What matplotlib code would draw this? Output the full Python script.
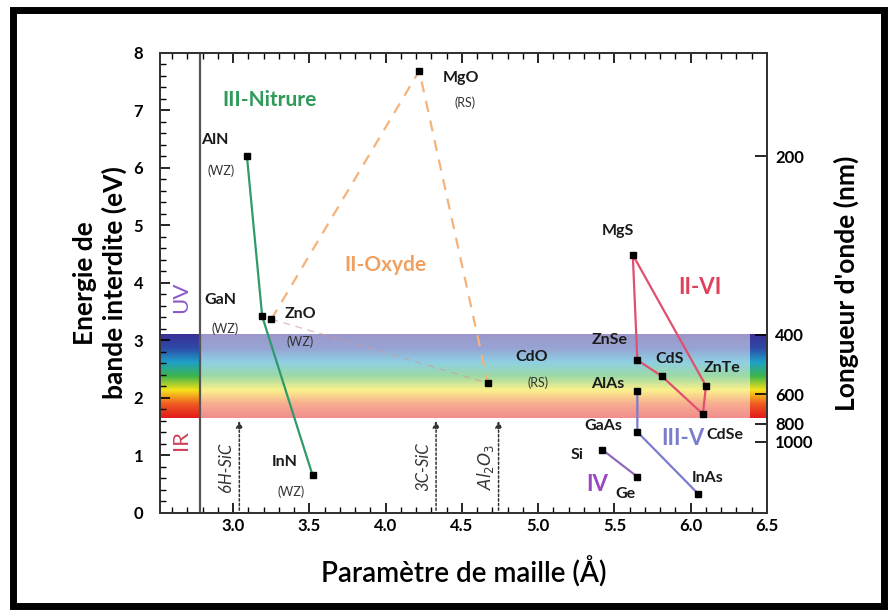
import numpy as np
import matplotlib
matplotlib.use("Agg")
import matplotlib.pyplot as plt
from matplotlib.colors import LinearSegmentedColormap, to_rgb
from matplotlib.patches import Rectangle

plt.rcParams['font.family'] = ['Lato', 'DejaVu Sans']

# ---- data ----
names = ["AlN", "GaN", "InN", "ZnO", "MgO", "CdO", "MgS", "ZnSe", "CdS", "ZnTe",
         "CdSe", "AlAs", "GaAs", "InAs", "Si", "Ge"]
lattice = [3.09, 3.19, 3.52, 3.25, 4.22, 4.67, 5.62, 5.65, 5.81, 6.10,
           6.08, 5.65, 5.65, 6.05, 5.42, 5.65]
gap = [6.2, 3.42, 0.66, 3.37, 7.69, 2.26, 4.49, 2.66, 2.38, 2.21,
       1.72, 2.12, 1.41, 0.33, 1.1, 0.63]
structure = {"AlN": "(WZ)", "GaN": "(WZ)", "InN": "(WZ)", "ZnO": "(WZ)",
             "MgO": "(RS)", "CdO": "(RS)"}

nitride_path = ["AlN", "GaN", "InN"]
oxide_path = ["ZnO", "MgO", "CdO"]
oxide_faint = ["ZnO", "CdO"]
iivi_path = ["MgS", "ZnSe", "CdS", "CdSe", "ZnTe", "MgS"]
iiiv_path = ["AlAs", "GaAs", "InAs"]
iv_path = ["Si", "Ge"]

substrates = ["6H-SiC", "3C-SiC", r"$\mathit{Al_2O_3}$"]
substrate_a = [3.04, 4.33, 4.74]

wavelengths = [200, 400, 600, 800, 1000]
visible_band = (1.65, 3.1)

pts = dict(zip(names, zip(lattice, gap)))

fig = plt.figure(figsize=(8.91, 6.14), dpi=100)
ax = fig.add_axes([0.1796, 0.1645, 0.6812, 0.7492])

# rainbow band for the visible range
cols = ['#e31a1c', '#f05a22', '#f7e21a', '#3cb44b', '#1ea0c8', '#2e4aa8', '#3b2f96']
rainbow = LinearSegmentedColormap.from_list("rb", cols)
pastel = LinearSegmentedColormap.from_list(
    "rbp", [tuple(0.5 * np.array(to_rgb(c)) + 0.5) for c in cols])
grad = np.linspace(0, 1, 256).reshape(-1, 1)
e0, e1 = visible_band
ax.imshow(grad, cmap=pastel, origin='lower', aspect='auto',
          extent=[2.78, 6.39, e0, e1], zorder=0)
ax.imshow(grad, cmap=rainbow, origin='lower', aspect='auto',
          extent=[2.52, 2.78, e0, e1], zorder=0)
ax.imshow(grad, cmap=rainbow, origin='lower', aspect='auto',
          extent=[6.39, 6.5, e0, e1], zorder=0)
ax.set_xlim(2.52, 6.5)
ax.set_ylim(0, 8)

ax.axvline(2.78, color='#555555', lw=1.6, zorder=1)


def path(keys, **kw):
    xs = [pts[k][0] for k in keys]
    ys = [pts[k][1] for k in keys]
    ax.plot(xs, ys, zorder=2, **kw)


path(nitride_path, color='#2f9a6a', lw=1.6)
path(oxide_path, color='#f4b37a', lw=1.6, ls=(0, (5, 4)))
path(oxide_faint, color='#d09a9a', lw=1.0, ls=(0, (5, 4)), alpha=0.6)
path(iivi_path, color='#e0506e', lw=1.6)
path(iiiv_path, color='#7a7ccc', lw=1.6)
path(iv_path, color='#8f6ab8', lw=1.6)

ax.plot(lattice, gap, 's', color='black', ms=5, zorder=3)

# compound labels (offsets in pixels from the marker)
offsets = {"AlN": (-32, 16), "MgO": (42, -7), "GaN": (-42, 16), "ZnO": (29, 5),
           "InN": (-28, 13), "CdO": (44, 26), "MgS": (-15, 24), "ZnSe": (-28, 20),
           "CdS": (8, 17), "ZnTe": (16, 18), "AlAs": (-30, 7), "GaAs": (-34, 6),
           "CdSe": (22, -21), "Si": (-25, -5), "Ge": (-12, -17), "InAs": (9, 16)}
sub_offsets = {"AlN": (-26, -14), "MgO": (46, -32), "GaN": (-37, -12),
               "ZnO": (29, -23), "InN": (-21, -17), "CdO": (50, 0)}
for n in names:
    ax.annotate(n, pts[n], xytext=offsets[n], textcoords='offset pixels',
                ha='center', va='center', fontsize=11.5, fontweight='bold',
                color='#1a1a1a', zorder=4)
    if n in structure:
        ax.annotate(structure[n], pts[n], xytext=sub_offsets[n],
                    textcoords='offset pixels', ha='center', va='center',
                    fontsize=9, color='#333333', zorder=4)

# family labels
ax.text(3.24, 7.18, "III-Nitrure", color='#2f9a5a', fontsize=15,
        fontweight='bold', ha='center', va='center')
ax.text(4.0, 4.31, "II-Oxyde", color='#f0a060', fontsize=15,
        fontweight='bold', ha='center', va='center')
ax.text(6.06, 3.93, "II-VI", color='#e0405a', fontsize=16,
        fontweight='bold', ha='center', va='center')
ax.text(5.95, 1.30, "III-V", color='#7a7ccc', fontsize=16,
        fontweight='bold', ha='center', va='center')
ax.text(5.39, 0.5, "IV", color='#9a48c0', fontsize=16,
        fontweight='bold', ha='center', va='center')
ax.text(2.66, 3.75, "UV", color='#8a5ac8', fontsize=16, rotation=90,
        ha='center', va='center')
ax.text(2.66, 1.27, "IR", color='#d0405a', fontsize=16, rotation=90,
        ha='center', va='center')

# substrate arrows
for lbl, a in zip(substrates, substrate_a):
    ax.annotate("", xy=(a, e0), xytext=(a, 0),
                arrowprops=dict(arrowstyle='-|>', color='#333333', lw=1.1,
                                ls=(0, (1.5, 1.5)), mutation_scale=10),
                zorder=2)
    ax.text(a - 0.085, 0.8, lbl, rotation=90, ha='center', va='center',
            fontsize=12, style='italic', color='#333333')

# ticks
ax.set_xticks(np.arange(3.0, 6.51, 0.5))
ax.set_xticks(np.arange(2.6, 6.51, 0.1), minor=True)
ax.set_yticks(np.arange(0, 8.1, 1))
ax.set_yticks(np.arange(0, 8.01, 0.2), minor=True)
ax.tick_params(which='both', direction='in', top=True, right=False)
ax.tick_params(which='major', length=7, width=1.2, labelsize=12)
ax.tick_params(which='minor', length=4, width=1.0)
for t in ax.get_xticklabels() + ax.get_yticklabels():
    t.set_fontweight('bold')
ax.tick_params(axis='y', pad=12)
for s in ax.spines.values():
    s.set_linewidth(1.4)
    s.set_color('#333333')

ax.set_xlabel("Paramètre de maille (Å)", fontsize=20, fontweight='semibold',
              labelpad=16)
ax.set_ylabel("Energie de\nbande interdite (eV)", fontsize=19,
              fontweight='bold', labelpad=5)

ax2 = ax.twinx()
ax2.set_ylim(0, 8)
ax2.set_yticks([1240.0 / w for w in wavelengths])
ax2.set_yticklabels([str(w) for w in wavelengths], fontsize=12, fontweight='bold')
ax2.tick_params(direction='in', length=9, width=1.2, pad=6)
ax2.set_ylabel("Longueur d'onde (nm)", fontsize=19, fontweight='bold',
               labelpad=14)
for s in ax2.spines.values():
    s.set_linewidth(1.4)
    s.set_color('#333333')

# outer frame
fig.patches.append(Rectangle((0.0145, 0.0135), 0.978, 0.9695,
                             transform=fig.transFigure, fill=False,
                             edgecolor='black', lw=5))

fig.savefig("out.png", dpi=100)
